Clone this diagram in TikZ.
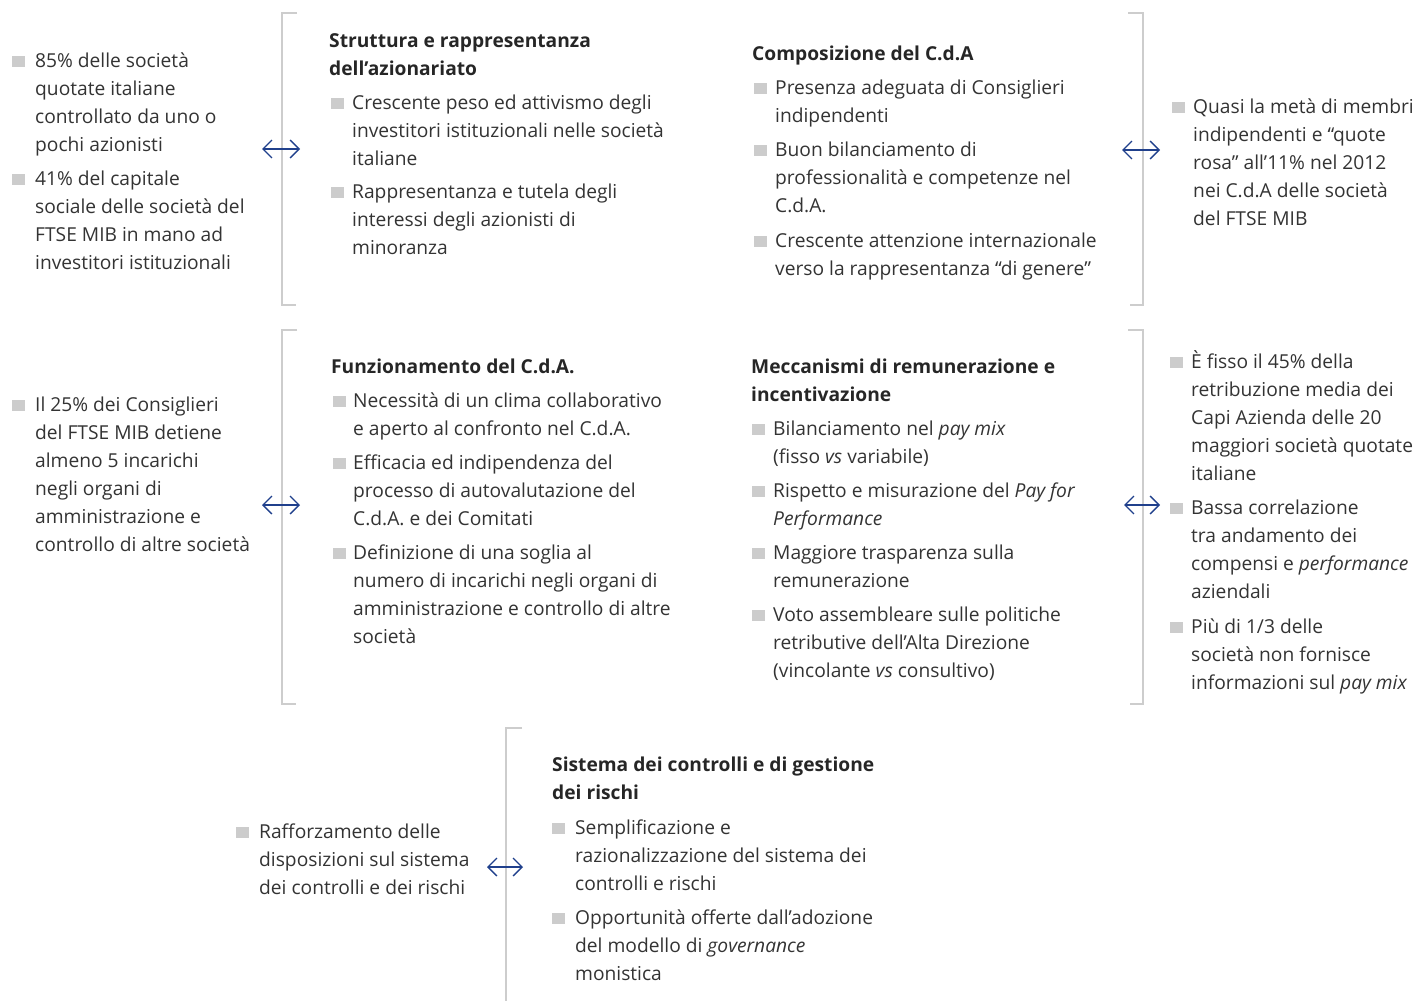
\documentclass[tikz,border=0pt]{standalone}
\usepackage{fontspec}
\setmainfont{Open Sans}
\usetikzlibrary{arrows.meta}
\definecolor{txtc}{RGB}{51,51,51}
\definecolor{bulc}{RGB}{204,204,204}
\definecolor{brkc}{RGB}{205,205,205}
\definecolor{arrc}{RGB}{32,64,140}
\tikzset{
  txt/.style={anchor=base west, inner sep=0pt, text=txtc, font=\fontsize{19.2}{28}\selectfont},
  head/.style={anchor=base west, inner sep=0pt, text=black!85, font=\fontsize{19.2}{28}\selectfont\bfseries},
  bul/.style={anchor=south west, fill=bulc, inner sep=0pt, minimum width=13pt, minimum height=11pt},
  brk/.style={draw=brkc, line width=2.5pt},
  arr/.style={draw=arrc, line width=1.3pt, {Straight Barb[length=9pt,width=18pt,line width=1.3pt]}-{Straight Barb[length=9pt,width=18pt,line width=1.3pt]}}
}
\newcommand\bitem[5]{%
  \node[bul] (#1b) at (#2,#3) {};
  \node[txt] (#1) at (#4,#3) {\parbox[t]{420pt}{#5}};
}
\newcommand\bhead[4]{%
  \node[head] (#1) at (#2,#3) {\parbox[t]{420pt}{#4}};
}
\begin{document}
\begin{tikzpicture}[x=1pt,y=-1pt]
\useasboundingbox (0,0) rectangle (1420,1001);
% ---------- brackets ----------
\draw[brk] (297,13) -- (282,13) -- (282,305) -- (296,305);
\draw[brk] (1128,13) -- (1143,13) -- (1143,305) -- (1130,305);
\draw[brk] (297,330) -- (282,330) -- (282,704) -- (296,704);
\draw[brk] (1128,330) -- (1143,330) -- (1143,704) -- (1130,704);
\draw[brk] (522,728) -- (506,728) -- (506,1001);
% ---------- row 1 ----------
\bitem{a1}{12}{67}{35}{85\% delle società\\quotate italiane\\controllato da uno o\\pochi azionisti}
\bitem{a2}{12}{185}{35}{41\% del capitale\\sociale delle società del\\FTSE MIB in mano ad\\investitori istituzionali}
\bhead{h1}{329}{47}{Struttura e rappresentanza\\dell'azionariato}
\bitem{b1}{331}{109}{352}{Crescente peso ed attivismo degli\\investitori istituzionali nelle società\\italiane}
\bitem{b2}{331}{198}{352}{Rappresentanza e tutela degli\\interessi degli azionisti di\\minoranza}
\bhead{h2}{752}{60}{Composizione del C.d.A}
\bitem{c1}{754}{94}{775}{Presenza adeguata di Consiglieri\\indipendenti}
\bitem{c2}{754}{156}{775}{Buon bilanciamento di\\professionalità e competenze nel\\C.d.A.}
\bitem{c3}{754}{247}{775}{Crescente attenzione internazionale\\verso la rappresentanza “di genere”}
\bitem{d1}{1172}{113}{1193}{Quasi la metà di membri\\indipendenti e “quote\\rosa” all’11\% nel 2012\\nei C.d.A delle società\\del FTSE MIB}
% ---------- row 2 ----------
\bitem{e1}{12}{411}{35}{Il 25\% dei Consiglieri\\del FTSE MIB detiene\\almeno 5 incarichi\\negli organi di\\amministrazione e\\controllo di altre società}
\bhead{h3}{331}{373}{Funzionamento del C.d.A.}
\bitem{f1}{333}{407}{353}{Necessità di un clima collaborativo\\e aperto al confronto nel C.d.A.}
\bitem{f2}{333}{469}{353}{Efficacia ed indipendenza del\\processo di autovalutazione del\\C.d.A. e dei Comitati}
\bitem{f3}{333}{559}{353}{Definizione di una soglia al\\numero di incarichi negli organi di\\amministrazione e controllo di altre\\società}
\bhead{h4}{751}{373}{Meccanismi di remunerazione e\\incentivazione}
\bitem{g1}{752}{435}{773}{Bilanciamento nel \emph{pay mix}\\(fisso \emph{vs} variabile)}
\bitem{g2}{752}{497}{773}{Rispetto e misurazione del \emph{Pay for}\\\emph{Performance}}
\bitem{g3}{752}{559}{773}{Maggiore trasparenza sulla\\remunerazione}
\bitem{g4}{752}{621}{773}{Voto assembleare sulle politiche\\retributive dell’Alta Direzione\\(vincolante \emph{vs} consultivo)}
\bitem{k1}{1170}{368}{1191}{È fisso il 45\% della\\retribuzione media dei\\Capi Azienda delle 20\\maggiori società quotate\\italiane}
\bitem{k2}{1170}{514}{1191}{Bassa correlazione\\tra andamento dei\\compensi e \emph{performance}\\aziendali}
\bitem{k3}{1170}{633}{1191}{Più di 1/3 delle\\società non fornisce\\informazioni sul \emph{pay mix}}
% ---------- row 3 ----------
\bitem{m1}{236}{838}{259}{Rafforzamento delle\\disposizioni sul sistema\\dei controlli e dei rischi}
\bhead{h5}{552}{771}{Sistema dei controlli e di gestione\\dei rischi}
\bitem{n1}{552}{834}{575}{Semplificazione e\\razionalizzazione del sistema dei\\controlli e rischi}
\bitem{n2}{552}{924}{575}{Opportunità offerte dall’adozione\\del modello di \emph{governance}\\monistica}
% ---------- connectors ----------
\coordinate (p1l) at (262,149); \coordinate (p1r) at (300,149);
\coordinate (p2l) at (1122,150); \coordinate (p2r) at (1160,150);
\coordinate (p3l) at (262,505); \coordinate (p3r) at (300,505);
\coordinate (p4l) at (1124,505); \coordinate (p4r) at (1160,505);
\coordinate (p5l) at (487,867); \coordinate (p5r) at (523,867);
\draw[arr] (p1l) -- (p1r);
\draw[arr] (p2l) -- (p2r);
\draw[arr] (p3l) -- (p3r);
\draw[arr] (p4l) -- (p4r);
\draw[arr] (p5l) -- (p5r);
\end{tikzpicture}
\end{document}
